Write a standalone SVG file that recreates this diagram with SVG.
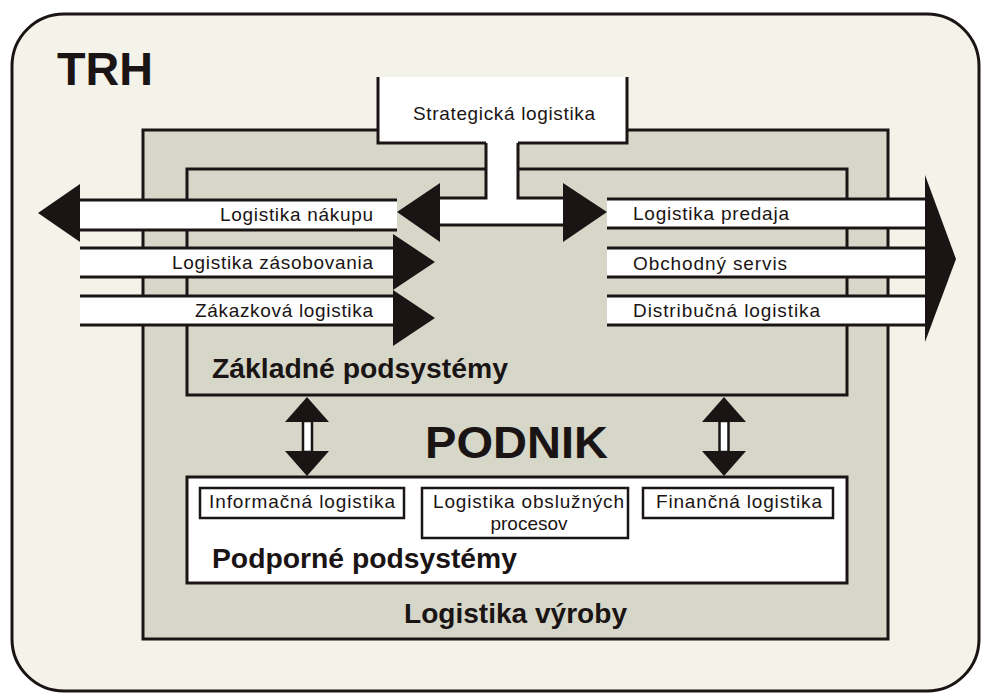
<svg xmlns="http://www.w3.org/2000/svg" width="982" height="695" viewBox="0 0 982 695">
<style>
text{font-family:"Liberation Sans",Arial,sans-serif;fill:#1a1414}
.b{font-weight:bold}
.lbl{font-size:19px}
.ln{stroke:#1a1414;stroke-width:3;fill:none}
.box{stroke:#1a1414;stroke-width:3}
.gray{fill:#d6d7c8}
.white{fill:#ffffff}
.head{fill:#1a1414}
</style>
<rect width="982" height="695" fill="#ffffff"/>
<g id="trh">
<rect x="12" y="14" width="967" height="677" rx="52" ry="52" fill="#f3f3ea" class="box"/>
<text x="57" y="85" class="b" font-size="47" textLength="96" lengthAdjust="spacingAndGlyphs">TRH</text>
</g>
<g id="podnik">
<rect x="143" y="130" width="745" height="509" class="box gray"/>
<text x="425" y="458" class="b" font-size="44" textLength="183" lengthAdjust="spacingAndGlyphs">PODNIK</text>
<text x="404" y="623" class="b" font-size="28" textLength="223" lengthAdjust="spacingAndGlyphs">Logistika výroby</text>
</g>
<g id="strategicka-box">
<rect x="378" y="77" width="249" height="66" class="white"/>
<path d="M378,77 V143 H487" class="ln"/>
<path d="M627,77 V143 H517" class="ln"/>
<text x="413" y="120" class="lbl" textLength="182" lengthAdjust="spacing">Strategická logistika</text>
</g>
<g id="zakladne">
<rect x="187" y="169" width="660" height="226" class="box gray"/>
<text x="212" y="378" class="b" font-size="28" textLength="296" lengthAdjust="spacingAndGlyphs">Základné podsystémy</text>
</g>
<g id="strategicka-stem">
<polygon points="486,141 518,141 518,198 563,198 563,225 440,225 440,198 486,198" class="white"/>
<path d="M486,143 V198 H440 M518,143 V198 H563 M440,225 H563" class="ln"/>
<polygon points="440,183 440,242 397,212" class="head"/>
<polygon points="563,183 563,242 607,212" class="head"/>
</g>
<g id="logistika-nakupu">
<rect x="80" y="200" width="317" height="30" class="white"/>
<path d="M80,200 H397 M80,230 H397" class="ln"/>
<polygon points="80,184 80,242 38,213" class="head"/>
<text x="220" y="221" class="lbl" textLength="153" lengthAdjust="spacing">Logistika nákupu</text>
</g>
<g id="logistika-zasobovania">
<rect x="80" y="248" width="313" height="29" class="white"/>
<path d="M80,248 H393 M80,277 H393" class="ln"/>
<polygon points="393,234 393,290 435,262" class="head"/>
<text x="172" y="269" class="lbl" textLength="201" lengthAdjust="spacing">Logistika zásobovania</text>
</g>
<g id="zakazkova-logistika">
<rect x="80" y="296" width="313" height="29" class="white"/>
<path d="M80,296 H393 M80,325 H393" class="ln"/>
<polygon points="393,290 393,346 435,318" class="head"/>
<text x="195" y="317" class="lbl" textLength="178" lengthAdjust="spacing">Zákazková logistika</text>
</g>
<g id="logistika-predaja">
<rect x="607" y="199" width="318" height="29" class="white"/>
<path d="M607,199 H925 M607,228 H925" class="ln"/>
<text x="633" y="220" class="lbl" textLength="156" lengthAdjust="spacing">Logistika predaja</text>
</g>
<g id="obchodny-servis">
<rect x="607" y="248" width="318" height="29" class="white"/>
<path d="M607,248 H925 M607,277 H925" class="ln"/>
<text x="633" y="270" class="lbl" textLength="154" lengthAdjust="spacing">Obchodný servis</text>
</g>
<g id="distribucna-logistika">
<rect x="607" y="296" width="318" height="29" class="white"/>
<path d="M607,296 H925 M607,325 H925" class="ln"/>
<text x="633" y="317" class="lbl" textLength="187" lengthAdjust="spacing">Distribučná logistika</text>
<polygon points="925,175 925,342 956,259" class="head"/>
</g>
<g id="podporne">
<rect x="187" y="477" width="660" height="106" class="box white"/>
<text x="212" y="568" class="b" font-size="28" textLength="305" lengthAdjust="spacingAndGlyphs">Podporné podsystémy</text>
</g>
<g id="informacna-logistika">
<rect x="200" y="488" width="204" height="30" class="white" stroke="#1a1414" stroke-width="2.5"/>
<text x="209" y="508" class="lbl" textLength="186" lengthAdjust="spacing">Informačná logistika</text>
</g>
<g id="logistika-obsluznych">
<rect x="422" y="488" width="206" height="50" class="white" stroke="#1a1414" stroke-width="2.5"/>
<text x="433" y="508" class="lbl" textLength="191" lengthAdjust="spacing">Logistika obslužných</text>
<text x="529" y="530" class="lbl" text-anchor="middle">procesov</text>
</g>
<g id="financna-logistika">
<rect x="643" y="488" width="190" height="30" class="white" stroke="#1a1414" stroke-width="2.5"/>
<text x="656" y="508" class="lbl" textLength="166" lengthAdjust="spacing">Finančná logistika</text>
</g>
<g id="connectors">
<polygon points="307,397 329,422 285,422" class="head"/>
<rect x="303" y="421" width="9" height="31" class="white" stroke="#1a1414" stroke-width="2.5"/>
<polygon points="285,451 329,451 307,476" class="head"/>
<polygon points="724,397 746,422 702,422" class="head"/>
<rect x="719.5" y="421" width="9" height="31" class="white" stroke="#1a1414" stroke-width="2.5"/>
<polygon points="702,451 746,451 724,476" class="head"/>
</g>
</svg>
